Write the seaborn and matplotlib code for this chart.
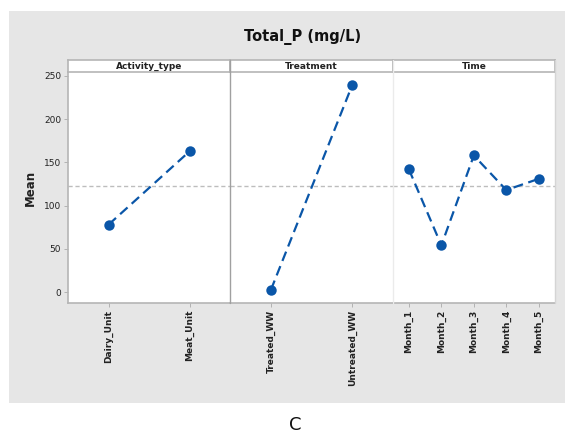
import matplotlib
matplotlib.use("Agg")
import matplotlib.pyplot as plt
import seaborn as sns
import pandas as pd

# ---- data ----
activity_levels = ["Dairy_Unit", "Meat_Unit"]
activity_means = [78, 163]
treatment_levels = ["Treated_WW", "Untreated_WW"]
treatment_means = [2.5, 239]
time_levels = ["Month_1", "Month_2", "Month_3", "Month_4", "Month_5"]
time_means = [142, 54, 158, 118, 131]
grand_mean = 122.5
panel_titles = ["Activity_type", "Treatment", "Time"]
yticks = [0, 50, 100, 150, 200, 250]

sns.set_style("white")
plt.rcParams['font.family'] = ['DejaVu Sans']

W, H = 572, 434
fig = plt.figure(figsize=(W / 100, H / 100), dpi=100)
fig.patch.set_facecolor("white")

def fx(px):
    return px / W

def fy(py):
    return 1 - py / H

# gray background panel
bg = fig.add_axes([fx(9), fy(403), fx(565) - fx(9), fy(11) - fy(403)], zorder=-10)
bg.set_facecolor("#E6E6E6")
bg.set_xticks([])
bg.set_yticks([])
for s in bg.spines.values():
    s.set_visible(False)

left, right = 68, 555
top_plot, bottom_plot = 72, 303
strip_top = 60
pw = (right - left) / 3

blue = "#0A56A8"
groups = [(activity_levels, activity_means), (treatment_levels, treatment_means),
          (time_levels, time_means)]
ylim = (-12.7, 254.6)

for i, (levels, means) in enumerate(groups):
    x0 = left + i * pw
    ax = fig.add_axes([fx(x0), fy(bottom_plot), pw / W, fy(top_plot) - fy(bottom_plot)])
    ax.set_facecolor("white")
    df = pd.DataFrame({"level": levels, "mean": means})
    ax.axhline(grand_mean, color="#BDBDBD", lw=1.0, ls=(0, (3, 2)), zorder=1)
    sns.pointplot(data=df, x="level", y="mean", ax=ax, color=blue, errorbar=None,
                  linestyle=(0, (4.5, 2.5)), markers="o", markersize=6.3, linewidth=1.6)
    ax.set_ylim(*ylim)
    ax.set_xlim(-0.5, len(levels) - 0.5)
    ax.set_xlabel("")
    ax.set_ylabel("")
    ax.tick_params(axis="x", rotation=90, labelsize=6.5, length=3, width=0.6,
                   color="#AAAAAA", pad=2, bottom=True)
    for lab in ax.get_xticklabels():
        lab.set_fontweight("bold")
        lab.set_color("#222222")
    for side in ["top", "right", "left", "bottom"]:
        ax.spines[side].set_visible(False)
    ax.spines["bottom"].set_visible(True)
    ax.spines["bottom"].set_color("#B5B5B5")
    ax.spines["bottom"].set_linewidth(1.2)
    if i == 0:
        ax.spines["left"].set_visible(True)
        ax.spines["left"].set_color("#B5B5B5")
        ax.spines["left"].set_linewidth(1.2)
        ax.set_yticks(yticks)
        ax.tick_params(axis="y", labelsize=6.5, length=3, width=0.6, color="#AAAAAA",
                       pad=2, left=True)
        for lab in ax.get_yticklabels():
            lab.set_color("#222222")
        ax.set_ylabel("Mean", fontsize=8.5, fontweight="bold", labelpad=5, color="#222222")
    else:
        ax.set_yticks([])

    # strip
    sax = fig.add_axes([fx(x0), fy(top_plot), pw / W, fy(strip_top) - fy(top_plot)])
    sax.set_facecolor("white")
    sax.set_xticks([])
    sax.set_yticks([])
    for side in sax.spines:
        sax.spines[side].set_color("#B5B5B5")
        sax.spines[side].set_linewidth(1.2)
    sax.text(0.5, 0.45, panel_titles[i], ha="center", va="center", fontsize=6.5,
             fontweight="bold", color="#222222", transform=sax.transAxes)

# panel dividers
fig.add_artist(plt.Line2D([fx(left + pw)] * 2, [fy(bottom_plot), fy(strip_top)],
                          transform=fig.transFigure, color="#A0A0A0", lw=1.0))
fig.add_artist(plt.Line2D([fx(left + 2 * pw)] * 2, [fy(bottom_plot), fy(strip_top)],
                          transform=fig.transFigure, color="#EBEBEB", lw=1.0))
fig.add_artist(plt.Line2D([fx(right)] * 2, [fy(bottom_plot), fy(strip_top)],
                          transform=fig.transFigure, color="#D5D5D5", lw=1.0))

fig.text(fx(303), fy(37), "Total_P (mg/L)", ha="center", va="center",
         fontsize=10.5, fontweight="bold", color="#111111")
fig.text(fx(295), fy(425), "C", ha="center", va="center", fontsize=13, color="#111111")

fig.savefig("out.png", dpi=100, facecolor="white")
